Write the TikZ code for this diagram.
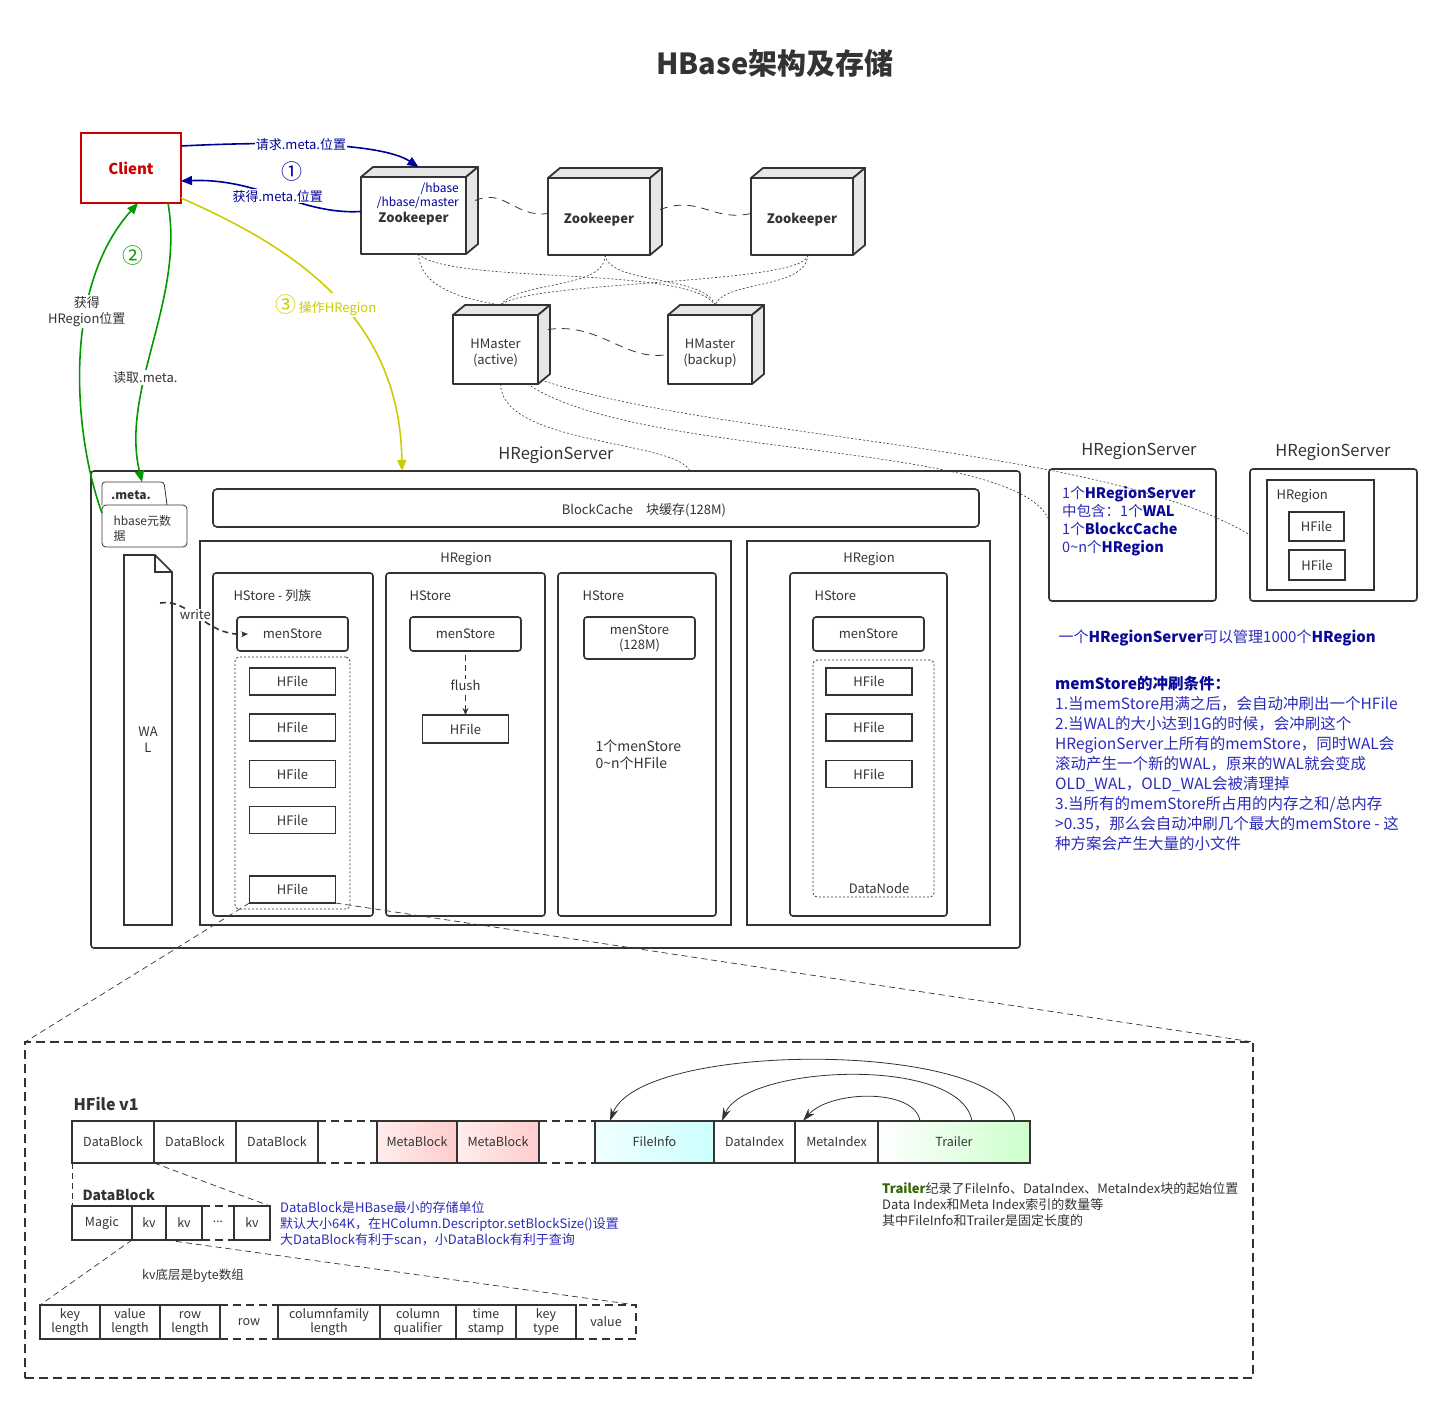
\documentclass[tikz,border=0pt]{standalone}
\usepackage{fontspec}
\setmainfont{Noto Sans CJK SC}
\usetikzlibrary{arrows.meta}

\definecolor{lgray}{HTML}{333333}
\definecolor{facegray}{HTML}{E6E6E6}
\definecolor{clired}{HTML}{CC0000}
\definecolor{zkblue}{HTML}{000099}
\definecolor{noteblue}{HTML}{2B2BB8}
\definecolor{deepblue}{HTML}{0A0A99}
\definecolor{getgreen}{HTML}{009900}
\definecolor{opyellow}{HTML}{CCCC00}
\definecolor{trgreen}{HTML}{336600}
\definecolor{mbpink}{HTML}{FFCCCC}
\definecolor{ficyan}{HTML}{CCFFFF}
\definecolor{trlgreen}{HTML}{CCFFCC}

\newcommand{\fsz}[2]{\fontsize{#1}{#2}\selectfont}
\newcommand{\bluebf}[1]{{\bfseries\color{deepblue}#1}}
\newcommand{\zkcube}[6]{%
  \node[cubebox, minimum width=#4, minimum height=#5] (#1) at (#2,#3)
       {\raisebox{-4pt}[\height][\depth]{\begin{tabular}{@{}c@{}}#6\end{tabular}}};
  \filldraw[cubeface] (#1.north west) -- ++(12,-10) -- ++(#4,0) -- (#1.north east) -- cycle;
  \filldraw[cubeface] (#1.north east) -- ++(12,-10) -- ++(0,#5) -- (#1.south east) -- cycle;
}

\tikzset{
  rbox/.style={draw=lgray, line width=1.6pt, fill=white, rounded corners=3pt,
               inner sep=0pt, outer sep=0pt, align=center},
  sqbox/.style={rbox, rounded corners=0pt},
  filebox/.style={sqbox, minimum width=86, minimum height=27},
  storebox/.style={rbox, minimum height=343},
  membox/.style={rbox, minimum width=111, minimum height=34},
  cubebox/.style={sqbox, line width=1.8pt, line join=round},
  cubeface/.style={fill=facegray, draw=lgray, line width=1.8pt, line join=round},
  dotbox/.style={draw=lgray, line width=0.8pt, dash pattern=on 2pt off 2pt,
                 rounded corners=4pt, inner sep=0pt, outer sep=0pt},
  hcell/.style={draw=lgray, line width=1.4pt, inner sep=0pt, outer sep=0pt,
                minimum height=42, font=\fsz{12.5}{14}, align=center},
  kvcell/.style={hcell, minimum height=34},
  dashedge/.style={draw=lgray, line width=1.6pt, dash pattern=on 8pt off 5pt},
  zoomline/.style={draw=lgray, line width=0.7pt, dash pattern=on 6pt off 4pt},
  zkline/.style={draw=lgray, line width=0.8pt, dash pattern=on 8pt off 6pt},
  hmline/.style={draw=lgray, line width=0.6pt, dash pattern=on 2pt off 2pt},
  blueconn/.style={draw=zkblue, line width=1.6pt, -{Triangle[length=11pt,width=9pt]}},
  greenconn/.style={draw=getgreen, line width=1.6pt, -{Triangle[length=11pt,width=9pt]}},
  yellconn/.style={draw=opyellow, line width=1.6pt, -{Triangle[length=11pt,width=9pt]}},
  writeconn/.style={draw=lgray, line width=1.6pt, dash pattern=on 6pt off 4pt,
                    -{Stealth[length=7pt,width=6pt]}},
  arcconn/.style={draw=lgray, line width=0.8pt, -{Stealth[length=13pt,width=8pt]}},
  lbl/.style={fill=white, inner sep=1pt, align=center},
}

\begin{document}
\begin{tikzpicture}[x=1pt,y=-1pt,every node/.style={font=\fsz{13}{16},text=lgray}]
\useasboundingbox (0,0) rectangle (1449,1402);

\node[font=\fsz{29}{32}\bfseries] (title) at (775,63) {HBase架构及存储};

\node[sqbox, draw=clired, minimum width=100, minimum height=70,
      text=clired, font=\fsz{15}{18}\bfseries] (Client) at (131,168) {Client};

\zkcube{zkA}{413.5}{215.5}{105}{77}{\textbf{Zookeeper}}
\zkcube{zkB}{599}{216.5}{102}{77}{\textbf{Zookeeper}}
\zkcube{zkC}{802}{216.5}{102}{77}{\textbf{Zookeeper}}
\zkcube{hmA}{495.5}{349.5}{85}{69}{HMaster\\(active)}
\zkcube{hmB}{710}{349.5}{84}{69}{HMaster\\(backup)}
\node[anchor=north east, align=right, text=zkblue, font=\fsz{12}{13.5}, inner sep=0pt]
     (zkpath) at (459,183) {/hbase\\/hbase/master};

% region server
\node[rbox, minimum width=929, minimum height=477] (rsMain) at (555.5,709.5) {};
\node[font=\fsz{16.5}{18}] (rsMainlbl) at (556,455) {HRegionServer};

\node[rbox, line width=0.8pt, rounded corners=4pt, minimum width=85, minimum height=42] (meta) at (144.5,526) {};
\draw[draw=lgray, line width=0.8pt, rounded corners=3pt] (meta.north west) |- ++(62,-23) -- ++(3,23);
\node[font=\fsz{12}{14}\bfseries] (metalbl) at (131,495) {.meta.};
\node[anchor=west, align=left, font=\fsz{12}{15}] (metatxt) at (110,528) {hbase元数\\据};
\coordinate (metatab) at (142,482);

\node[minimum width=48, minimum height=370, inner sep=0pt, outer sep=0pt, align=center] (wal) at (148,740) {WA\\L};
\draw[draw=lgray, line width=1.6pt] (wal.north west) -- ([xshift=-17pt]wal.north east)
     -- ([yshift=-17pt]wal.north east) -- (wal.south east) -- (wal.south west) -- cycle;
\draw[draw=lgray, line width=1.6pt] ([xshift=-17pt]wal.north east) |- ([yshift=-17pt]wal.north east);

\node[rbox, minimum width=766, minimum height=38, rounded corners=4pt] (cache) at (596,508) {};
\node (cachelbl) at (644,510) {BlockCache\quad 块缓存(128M)};

\node[sqbox, minimum width=531, minimum height=384] (regA) at (465.5,733) {};
\node[sqbox, minimum width=243, minimum height=384] (regB) at (868.5,733) {};
\node (regAlbl) at (466,559) {HRegion};
\node (regBlbl) at (869,559) {HRegion};

\node[storebox, minimum width=160] (stA) at (293,744.5) {};
\node[storebox, minimum width=159] (stB) at (465.5,744.5) {};
\node[storebox, minimum width=158] (stC) at (637,744.5) {};
\node[storebox, minimum width=157] (stD) at (868.5,744.5) {};
\node[anchor=west] (stAlbl) at (230,596) {HStore - 列族};
\node[anchor=west] (stBlbl) at (406,596) {HStore};
\node[anchor=west] (stClbl) at (579,596) {HStore};
\node[anchor=west] (stDlbl) at (811,596) {HStore};

\node[membox] (msA) at (292.5,634) {menStore};
\node[membox] (msB) at (465.5,634) {menStore};
\node[membox, minimum height=42, font=\fsz{13}{15}] (msC) at (639.5,638) {menStore\\(128M)};
\node[membox] (msD) at (868.5,634) {menStore};

\node[dotbox, minimum width=115, minimum height=252] (dbxA) at (292.5,783) {};
\node[dotbox, minimum width=121, minimum height=237] (dbxD) at (873.5,778.5) {};
\foreach \y [count=\i] in {681.5,727.5,774,820,889.5}
  \node[filebox] (hfA\i) at (292.5,\y) {HFile};
\foreach \y [count=\i] in {681.5,727.5,774}
  \node[filebox] (hfD\i) at (869,\y) {HFile};
\node[filebox, minimum height=28] (hfB) at (465.5,729) {HFile};
\node[anchor=west, align=left, font=\fsz{14}{17}] (stCtxt) at (592,755) {1个menStore\\0\textasciitilde n个HFile};
\node (dnlbl) at (879,888) {DataNode};

\draw[writeconn] ([shift={(36pt,-48pt)}]wal.north west) .. controls (190,598) and (205,636) ..
     ([xshift=11pt]msA.west) node[pos=.45, lbl] {write};
\draw[writeconn] ([yshift=-4pt]msB.south) -- (hfB.north) node[midway, lbl] {flush};

% other region servers
\node[rbox, minimum width=167, minimum height=132] (rsB) at (1132.5,535) {};
\node[font=\fsz{16.5}{18}] (rsBlbl) at (1139,451) {HRegionServer};
\node[anchor=north west, align=left, text=noteblue, font=\fsz{14.5}{18}, inner sep=0pt] (rsBtxt) at (1062,486)
     {1个\bluebf{HRegionServer}\\中包含：1个\bluebf{WAL}\\1个\bluebf{BlockcCache}\\0\textasciitilde n个\bluebf{HRegion}};
\node[rbox, minimum width=167, minimum height=132] (rsC) at (1333.5,535) {};
\node[font=\fsz{16.5}{18}] (rsClbl) at (1333,452) {HRegionServer};
\node[sqbox, minimum width=107, minimum height=110] (regC) at (1320.5,535) {};
\node[anchor=west] (regClbl) at (1273,496) {HRegion};
\node[filebox, minimum width=55, minimum height=29] (hfC1) at (1316.5,526.5) {HFile};
\node[filebox, minimum width=56, minimum height=30] (hfC2) at (1317,565) {HFile};

\node[anchor=west, text=noteblue, font=\fsz{15}{18}] (note) at (1055,638)
     {一个\bluebf{HRegionServer}可以管理1000个\bluebf{HRegion}};
\node[anchor=north west, align=left, text=noteblue, font=\fsz{15.5}{20}, inner sep=0pt] (cond) at (1055,676)
     {\bluebf{memStore的冲刷条件：}\\
      1.当memStore用满之后，会自动冲刷出一个HFile\\
      2.当WAL的大小达到1G的时候，会冲刷这个\\
      HRegionServer上所有的memStore，同时WAL会\\
      滚动产生一个新的WAL，原来的WAL就会变成\\
      OLD\_WAL，OLD\_WAL会被清理掉\\
      3.当所有的memStore所占用的内存之和/总内存\\
      >0.35，那么会自动冲刷几个最大的memStore - 这\\
      种方案会产生大量的小文件};

% client arrows
\draw[blueconn] ([yshift=22pt]Client.east) .. controls (300,140) and (385,145) ..
     ([shift={(5pt,10pt)}]zkA.north) node[pos=.38, lbl, text=zkblue] {请求.meta.位置};
\draw[blueconn] ([yshift=4pt]zkA.west) .. controls (300,215) and (260,178) ..
     ([yshift=-13pt]Client.east) node[pos=.5, lbl, text=zkblue] {获得.meta.位置};
\node[text=zkblue, font=\fsz{21}{22}] (numA) at (292,172) {①};

\draw[greenconn] ([yshift=13pt]meta.west) .. controls (75,440) and (60,290) ..
     ([xshift=7pt]Client.south) node[pos=.65, lbl] {获得\\HRegion位置};
\draw[greenconn] ([xshift=37pt]Client.south) .. controls (185,300) and (120,390) ..
     (metatab) node[pos=.62, lbl] {读取.meta.};
\node[text=getgreen, font=\fsz{21}{22}] (numB) at (133,256) {②};

\draw[yellconn] ([yshift=-30pt]Client.east) .. controls (300,250) and (400,320) ..
     ([xshift=311pt]rsMain.north west);
\node[lbl, text=opyellow] (numC) at (326,305) {{\fsz{21}{22}③}\,操作HRegion};

% zookeeper and master links
\draw[zkline] ([shift={(9pt,15pt)}]zkA.east) .. controls (505,188) and (515,218) .. ([yshift=3pt]zkB.west);
\draw[zkline] ([shift={(10pt,7pt)}]zkB.east) .. controls (700,195) and (712,222) .. ([yshift=3pt]zkC.west);
\draw[zkline] ([shift={(10pt,20pt)}]hmA.east) .. controls (600,322) and (625,362) .. ([yshift=-5pt]hmB.west);

\draw[hmline] ([xshift=5pt]zkA.south) .. controls (420,290) and (470,300) .. ([shift={(5pt,10pt)}]hmA.north);
\draw[hmline] ([xshift=5pt]zkA.south) .. controls (450,285) and (690,265) .. ([shift={(5pt,10pt)}]hmB.north);
\draw[hmline] ([xshift=6pt]zkB.south) .. controls (605,290) and (520,280) .. ([shift={(5pt,10pt)}]hmA.north);
\draw[hmline] ([xshift=6pt]zkB.south) .. controls (610,285) and (705,275) .. ([shift={(5pt,10pt)}]hmB.north);
\draw[hmline] ([xshift=6pt]zkC.south) .. controls (805,285) and (530,280) .. ([shift={(5pt,10pt)}]hmA.north);
\draw[hmline] ([xshift=6pt]zkC.south) .. controls (805,290) and (725,280) .. ([shift={(5pt,10pt)}]hmB.north);

\draw[hmline] ([xshift=5pt]hmA.south) .. controls (502,445) and (675,440) .. ([xshift=599pt]rsMain.north west);
\draw[hmline] ([xshift=32pt]hmA.south) .. controls (640,460) and (1015,440) .. ([yshift=15pt]rsB.west);
\draw[hmline] ([shift={(3pt,4pt)}]hmA.south east) .. controls (720,440) and (1100,445) .. (rsC.west);

% hfile layout
\node[draw=lgray, line width=1.6pt, dash pattern=on 9pt off 5pt, minimum width=1228, minimum height=336,
      inner sep=0pt, outer sep=0pt] (hbig) at (639,1210) {};
\draw[zoomline] (hfA5.south west) -- (hbig.north west);
\draw[zoomline] (hfA5.south east) -- (hbig.north east);

\node[anchor=west, font=\fsz{16}{18}\bfseries] (hfv) at (70,1104) {HFile v1};
\node[hcell, minimum width=82] (dbA) at (113,1142) {DataBlock};
\node[hcell, minimum width=82] (dbB) at (195,1142) {DataBlock};
\node[hcell, minimum width=82] (dbC) at (277,1142) {DataBlock};
\node[hcell, minimum width=80, left color=mbpink!35, right color=mbpink] (mbA) at (417,1142) {MetaBlock};
\node[hcell, minimum width=82, left color=mbpink!35, right color=mbpink] (mbB) at (498,1142) {MetaBlock};
\node[hcell, minimum width=119, left color=ficyan!30, right color=ficyan] (fi) at (654.5,1142) {FileInfo};
\node[hcell, minimum width=81] (di) at (754.5,1142) {DataIndex};
\node[hcell, minimum width=83] (mi) at (836.5,1142) {MetaIndex};
\node[hcell, minimum width=152, left color=white, right color=trlgreen] (tr) at (954,1142) {Trailer};
\draw[dashedge] (dbC.north east) -- (mbA.north west);
\draw[dashedge] (dbC.south east) -- (mbA.south west);
\draw[dashedge] (mbB.north east) -- (fi.north west);
\draw[dashedge] (mbB.south east) -- (fi.south west);

\draw[arcconn] ([xshift=61pt]tr.north) .. controls (1005,1040) and (640,1040) .. ([xshift=15pt]fi.north west);
\draw[arcconn] ([xshift=18pt]tr.north) .. controls (960,1055) and (745,1065) .. ([xshift=8pt]di.north west);
\draw[arcconn] ([xshift=-34pt]tr.north) .. controls (915,1088) and (830,1090) .. ([xshift=8pt]mi.north west);

\node[anchor=north west, align=left, font=\fsz{13}{16}, inner sep=0pt] (trtxt) at (882,1182)
     {{\bfseries\color{trgreen}Trailer}纪录了FileInfo、DataIndex、MetaIndex块的起始位置\\
      Data Index和Meta Index索引的数量等\\
      其中FileInfo和Trailer是固定长度的};

% data block
\node[anchor=west, font=\fsz{14}{16}\bfseries] (dblbl) at (79,1195) {DataBlock};
\node[kvcell, minimum width=60] (mg) at (102,1223) {Magic};
\node[kvcell, minimum width=34] (kvA) at (149,1223) {kv};
\node[kvcell, minimum width=36] (kvB) at (184,1223) {kv};
\node[kvcell, minimum width=36] (kvC) at (252,1223) {kv};
\node[font=\fsz{12}{14}] (kvdots) at (218,1222) {...};
\draw[dashedge] (kvB.north east) -- (kvC.north west);
\draw[dashedge] (kvB.south east) -- (kvC.south west);
\draw[zoomline] (dbA.south west) -- (mg.north west);
\draw[zoomline] (dbB.south west) -- (kvC.north east);
\node[anchor=north west, align=left, text=noteblue, font=\fsz{13}{16}, inner sep=0pt] (dbtxt) at (280,1201)
     {DataBlock是HBase最小的存储单位\\
      默认大小64K，在HColumn.Descriptor.setBlockSize()设置\\
      大DataBlock有利于scan，小DataBlock有利于查询};

% key value
\node[font=\fsz{12.5}{14}] (kvtxt) at (193,1276) {kv底层是byte数组};
\node[kvcell, minimum width=60] (kl) at (70,1322) {key\\length};
\node[kvcell, minimum width=60] (vl) at (130,1322) {value\\length};
\node[kvcell, minimum width=60] (rl) at (190,1322) {\vphantom{l}row\\length};
\node[kvcell, draw=none, minimum width=58] (rw) at (249,1322) {row};
\node[kvcell, minimum width=102] (cf) at (329,1322) {columnfamily\\length};
\node[kvcell, minimum width=76] (cq) at (418,1322) {column\\qualifier};
\node[kvcell, minimum width=60] (ts) at (486,1322) {time\\stamp};
\node[kvcell, minimum width=60] (kt) at (546,1322) {key\\type};
\node[kvcell, minimum width=60, dash pattern=on 8pt off 5pt] (vv) at (606,1322) {value};
\draw[dashedge] (rl.north east) -- (cf.north west);
\draw[dashedge] (rl.south east) -- (cf.south west);
\draw[zoomline] (mg.south east) -- (kl.north west);
\draw[zoomline] (kvA.south east) -- (vv.north east);

\end{tikzpicture}
\end{document}
